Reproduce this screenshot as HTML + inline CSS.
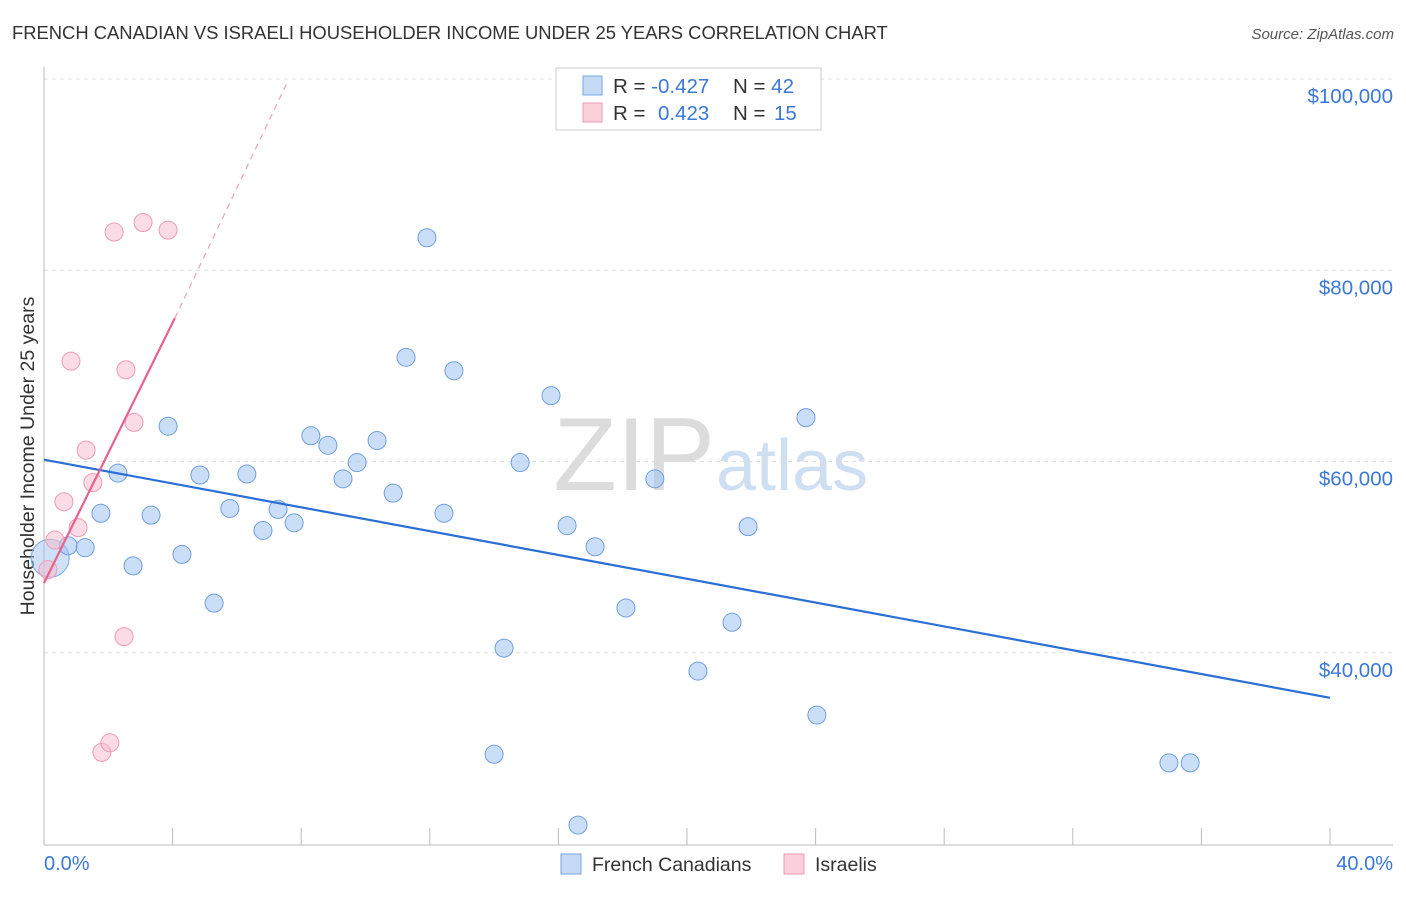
<!DOCTYPE html>
<html><head><meta charset="utf-8">
<style>
body{margin:0;background:#fff;width:1406px;height:892px;overflow:hidden;font-family:"Liberation Sans",sans-serif;}
svg text{font-family:"Liberation Sans",sans-serif;}
</style></head><body>
<svg id="chart" width="1406" height="892">
<text x="12" y="39" font-size="18.4" fill="#333">FRENCH CANADIAN VS ISRAELI HOUSEHOLDER INCOME UNDER 25 YEARS CORRELATION CHART</text>
<text x="1394" y="39" font-size="15" fill="#555" font-style="italic" text-anchor="end">Source: ZipAtlas.com</text>
<text x="715" y="490" font-size="104" fill="#dcdcdc" text-anchor="end" font-family="Liberation Serif">ZIP</text>
<text x="716" y="490" font-size="72" fill="#cfdff2">atlas</text>
<g id="grid"></g>
<line x1="44" y1="67" x2="44" y2="845" stroke="#bbb"/>
<line x1="44" y1="845" x2="1393" y2="845" stroke="#bbb"/>
<g id="xticks"></g>
<text transform="translate(34,456) rotate(-90)" font-size="19.5" fill="#333" text-anchor="middle">Householder Income Under 25 years</text>
<text x="44" y="870" font-size="20" fill="#3b78d8">0.0%</text>
<text x="1393" y="870" font-size="20" fill="#3b78d8" text-anchor="end">40.0%</text>
<g id="points"></g>
<g id="trends"></g>
<g>
<rect x="556" y="68" width="265" height="62" fill="#fff" stroke="#ccc"/>
<rect x="583" y="76" width="19" height="19" fill="#c5daf5" stroke="#7aa7e3"/>
<rect x="583" y="103" width="19" height="19" fill="#fad0dc" stroke="#ef9cb4"/>
<text x="613" y="93" font-size="20.5" fill="#333">R = <tspan fill="#3b78d8">-0.427</tspan><tspan x="733">N = </tspan><tspan fill="#3b78d8">42</tspan></text>
<text x="613" y="120" font-size="20.5" fill="#333">R = <tspan x="658" fill="#3b78d8">0.423</tspan><tspan x="733">N = </tspan><tspan x="774" fill="#3b78d8">15</tspan></text>
</g>
<g>
<rect x="561" y="854" width="20" height="20" fill="#c5daf5" stroke="#7aa7e3"/>
<text x="592" y="871" font-size="19.5" fill="#333">French Canadians</text>
<rect x="784" y="854" width="20" height="20" fill="#fad0dc" stroke="#ef9cb4"/>
<text x="815" y="871" font-size="19.5" fill="#333">Israelis</text>
</g>
</svg>
<script>
const yTicks=[40000,60000,80000,100000];
const yTickLabels=["$40,000","$60,000","$80,000","$100,000"];
const xTicks=[0,4,8,12,16,20,24,28,32,36,40];
const blueX=[0.75,1.28,1.77,2.30,2.77,3.33,3.86,4.29,4.85,5.29,5.78,6.31,6.81,7.28,7.78,8.30,8.83,9.30,9.74,10.36,10.86,11.26,11.91,12.44,12.75,14.00,14.31,14.81,15.77,16.27,16.61,17.14,18.10,19.00,20.34,21.40,21.90,23.70,24.04,34.99,35.65];
const blueY=[51.2,51.0,54.6,58.8,49.1,54.4,63.7,50.3,58.6,45.2,55.1,58.7,52.8,55.0,53.6,62.7,61.7,58.2,59.9,62.2,56.7,70.9,83.4,54.6,69.5,29.4,40.5,59.9,66.9,53.3,22.0,51.1,44.7,58.2,38.1,43.2,53.2,64.6,33.5,28.5,28.5];
const pinkX=[0.12,0.34,0.62,0.84,1.06,1.31,1.52,1.80,2.05,2.18,2.49,2.55,2.80,3.08,3.86];
const pinkY=[48.7,51.8,55.8,70.5,53.1,61.2,57.8,29.6,30.6,84.0,41.7,69.6,64.1,85.0,84.2];
const blueTrend=[60.2,35.3];
const pinkTrend=[47.3,75.0,99.6];
const pinkTrendX=[0,4.07,7.56];
const NS="http://www.w3.org/2000/svg";
const sx=v=>44+v/40*1286;
const sy=v=>79+(100000-v)/20000*191.3;
function mk(t,a,p){const e=document.createElementNS(NS,t);for(const k in a)e.setAttribute(k,a[k]);document.getElementById(p).appendChild(e);return e;}
yTicks.forEach((v,i)=>{
 const l=mk('line',{x1:44,x2:1393,y1:sy(v),y2:sy(v),stroke:'#ddd','stroke-dasharray':'4,4'},'grid');
 
 
 const t=mk('text',{x:1393,y:sy(v)+24,'font-size':20.5,fill:'#3b78d8','text-anchor':'end'},'grid');
 t.textContent=yTickLabels[i];
 
 
});
xTicks.forEach(v=>{
 const l=mk('line',{x1:sx(v),x2:sx(v),y1:828,y2:845,stroke:'#bbb'},'xticks');
 
 
});
const big=mk('circle',{cx:sx(0.19),cy:sy(49900),r:19,fill:'rgba(160,195,240,0.5)',stroke:'#7aa7e3'},'points');


blueX.forEach((x,i)=>{
 const c=mk('circle',{cx:sx(x),cy:sy(blueY[i]*1000),r:9,fill:'rgba(160,195,240,0.55)',stroke:'#6f9fe0'},'points');
 
 
});
pinkX.forEach((x,i)=>{
 const c=mk('circle',{cx:sx(x),cy:sy(pinkY[i]*1000),r:9,fill:'rgba(248,190,208,0.55)',stroke:'#ee9cb5'},'points');
 
 
});
const bl=mk('line',{x1:sx(0),y1:sy(blueTrend[0]*1000),x2:sx(40),y2:sy(blueTrend[1]*1000),stroke:'#2a6fd6','stroke-width':2.2},'trends');


const pl=mk('line',{x1:sx(pinkTrendX[0]),y1:sy(pinkTrend[0]*1000),x2:sx(pinkTrendX[1]),y2:sy(pinkTrend[1]*1000),stroke:'#e8628c','stroke-width':2.2},'trends');


const pd=mk('line',{x1:sx(pinkTrendX[1]),y1:sy(pinkTrend[1]*1000),x2:sx(pinkTrendX[2]),y2:sy(pinkTrend[2]*1000),stroke:'#eea0b8','stroke-width':1.2,'stroke-dasharray':'6,5'},'trends');


</script>
</body></html>
